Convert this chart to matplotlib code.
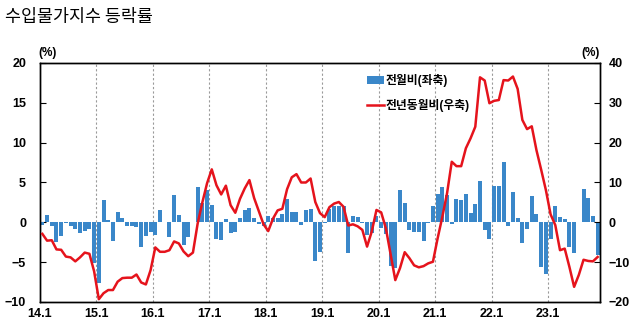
import matplotlib
matplotlib.use("Agg")
import matplotlib.pyplot as plt
import numpy as np

plt.rcParams['font.family'] = ['Liberation Sans', 'Noto Sans CJK KR', 'DejaVu Sans']

# monthly series, 2014.1 ~ 2023.11
mom = [  # 전월비 (%)
    -0.3, 0.9, -0.5, -2.5, -1.7, -0.1, -0.5, -0.8, -1.3, -1.1, -0.8, -5.1,
    -7.6, 2.8, 0.3, -2.4, 1.3, 0.5, -0.4, -0.4, -0.6, -3.1, -1.7, -1.2,
    -1.6, 1.5, 0.1, -1.9, 3.4, 0.9, -2.8, -1.9, 0.1, 4.4, 2.4, 4.1,
    2.2, -2.1, -2.2, 0.4, -1.4, -1.2, 0.5, 1.5, 1.8, 0.5, -0.2, -0.5,
    0.8, 0.5, 0.5, 1.1, 2.9, 1.3, 1.3, -0.3, 1.6, 1.7, -4.9, -3.7,
    -0.1, 1.7, 2.0, 2.0, 2.1, -3.8, 0.8, 0.7, -0.1, -1.6, -1.3, 0.8,
    -0.7, -1.5, -5.5, -5.7, 4.0, 2.4, -1.0, -1.2, -1.2, -2.3, -0.1, 2.1,
    3.6, 4.4, 3.4, -0.2, 2.9, 2.8, 3.6, 1.2, 2.3, 5.2, -1.0, -2.1,
    4.5, 4.6, 7.6, -0.5, 3.8, 0.5, -2.6, -0.8, 3.3, 1.1, -5.6, -6.5,
    -2.1, 2.0, 0.7, 0.4, -3.1, -3.9, 0.1, 4.2, 3.0, 0.8, -4.1,
]
yoy = [  # 전년동월비 (%)
    -2.9, -4.6, -4.5, -6.8, -6.9, -8.6, -8.8, -9.8, -8.8, -7.6, -7.9, -12.3,
    -19.3, -17.8, -17.0, -17.0, -14.9, -14.0, -13.9, -13.9, -13.1, -15.1, -15.6, -12.0,
    -6.3, -7.4, -7.4, -7.0, -4.8, -5.3, -7.3, -8.5, -7.6, -0.3, 5.0, 9.8,
    13.3, 9.3, 7.0, 9.2, 4.3, 2.4, 5.9, 8.5, 10.6, 6.1, 2.8, -0.5,
    -2.2, 0.9, 3.0, 3.4, 8.3, 11.3, 12.1, 10.0, 10.0, 11.0, 5.1, 2.3,
    1.3, 3.8, 4.7, 5.1, 3.9, -0.8, -0.5, -1.0, -1.9, -6.1, -2.3, 3.1,
    2.5, -1.5, -8.0, -14.5, -11.5, -7.5, -9.0, -10.8, -11.3, -11.0, -10.3, -9.9,
    -4.0, 1.4, 7.3, 15.2, 14.1, 14.1, 18.6, 21.1, 24.0, 36.4, 35.6, 29.9,
    30.5, 30.7, 35.7, 35.6, 36.6, 33.5, 25.7, 23.4, 24.1, 18.1, 13.2, 8.1,
    2.0, -0.7, -7.0, -6.6, -11.2, -16.2, -13.2, -9.4, -9.7, -9.8, -8.7,
]
year_labels = ['14.1', '15.1', '16.1', '17.1', '18.1', '19.1', '20.1', '21.1', '22.1', '23.1']

n = len(mom)
x = np.arange(n) + 0.5
year_pos = np.arange(len(year_labels)) * 12

fig = plt.figure(figsize=(6.4, 3.25), dpi=100)
ax = fig.add_axes([0.0625, 0.0708, 0.875, 0.7354])
ax2 = ax.twinx()

ax.bar(x, mom, width=0.85, color='#3A87C9', label='전월비(좌축)', zorder=2)
ax2.plot(x, yoy, color='#E5131C', lw=1.8, label='전년동월비(우축)', zorder=3)

ax.set_xlim(0, n)
ax.set_ylim(-10, 20)
ax.set_yticks(np.arange(-10, 21, 5))
ax2.set_ylim(-20, 40)
ax2.set_yticks(np.arange(-20, 41, 10))

ax.set_xticks(year_pos)
ax.set_xticklabels(year_labels)
for p in year_pos[1:]:
    ax.axvline(p, color='#9a9a9a', lw=0.8, ls=(0, (2, 2)), zorder=1)

for a in (ax, ax2):
    for s in a.spines.values():
        s.set_color('black')
        s.set_linewidth(1.0)
ax.tick_params(axis='y', direction='in', length=4, labelsize=9, pad=10)
ax2.tick_params(axis='y', direction='in', length=4, labelsize=9, pad=6)
ax.tick_params(axis='x', length=0, labelsize=9, pad=4)
for lab in ax.get_yticklabels() + ax2.get_yticklabels() + ax.get_xticklabels():
    lab.set_fontweight('bold')

fig.text(0.074, 0.828, '(%)', fontsize=8.5, fontweight='bold', ha='center')
fig.text(0.922, 0.828, '(%)', fontsize=8.5, fontweight='bold', ha='center')
fig.text(0.008, 0.947, '수입물가지수 등락률', fontsize=12.5, ha='left', va='center',
         family=['Noto Sans CJK KR', 'DejaVu Sans'])

h1, l1 = ax.get_legend_handles_labels()
h2, l2 = ax2.get_legend_handles_labels()
leg = fig.legend(h1 + h2, l1 + l2, loc='upper left', bbox_to_anchor=(0.557, 0.805),
                 frameon=False, fontsize=8.5, handlelength=1.4, handleheight=0.6,
                 handletextpad=0.2, labelspacing=1.0)
for t in leg.get_texts():
    t.set_fontweight('bold')

fig.savefig('out.png', dpi=100)
